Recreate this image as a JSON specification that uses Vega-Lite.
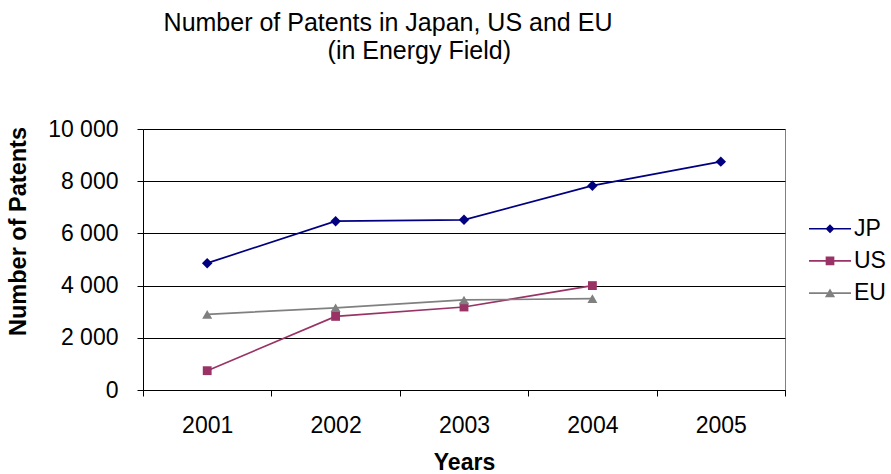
{
  "$schema": "https://vega.github.io/schema/vega-lite/v6.json",
  "width": 642,
  "height": 261,
  "autosize": "none",
  "padding": {"left": 143, "top": 129, "right": 106, "bottom": 84},
  "background": "white",
  "config": {
    "font": "Liberation Sans",
    "view": {"stroke": "#808080", "strokeWidth": 1},
    "axis": {
      "labelColor": "black",
      "labelFont": "Liberation Sans",
      "titleColor": "black",
      "titleFont": "Liberation Sans",
      "domainColor": "black",
      "tickColor": "black"
    }
  },
  "title": {
    "text": ["Number of Patents in Japan, US and EU", "\u200b\u00a0\u00a0\u00a0\u00a0\u00a0\u00a0\u00a0\u00a0\u00a0(in Energy Field)"],
    "font": "Liberation Sans",
    "fontSize": 25,
    "fontWeight": "normal",
    "color": "black",
    "anchor": "middle",
    "frame": "group",
    "dx": -76,
    "lineHeight": 28,
    "baseline": "alphabetic",
    "offset": 34
  },
  "data": {
    "values": [
      {"series": "JP", "year": "2001", "patents": 4860},
      {"series": "JP", "year": "2002", "patents": 6470},
      {"series": "JP", "year": "2003", "patents": 6520},
      {"series": "JP", "year": "2004", "patents": 7830},
      {"series": "JP", "year": "2005", "patents": 8750},
      {"series": "US", "year": "2001", "patents": 740},
      {"series": "US", "year": "2002", "patents": 2820},
      {"series": "US", "year": "2003", "patents": 3180},
      {"series": "US", "year": "2004", "patents": 4000},
      {"series": "EU", "year": "2001", "patents": 2900},
      {"series": "EU", "year": "2002", "patents": 3150},
      {"series": "EU", "year": "2003", "patents": 3450},
      {"series": "EU", "year": "2004", "patents": 3500}
    ]
  },
  "encoding": {
    "x": {
      "field": "year",
      "type": "ordinal",
      "bandPosition": 0.5,
      "scale": {"type": "band", "paddingInner": 0, "paddingOuter": 0},
      "axis": {
        "title": "Years",
        "titleFontSize": 23,
        "titleFontWeight": "bold",
        "titleBaseline": "alphabetic",
        "titleY": 79,
        "labelAngle": 0,
        "labelFontSize": 23,
        "labelPadding": 18,
        "tickSize": 6,
        "tickBand": "extent",
        "grid": false
      }
    },
    "y": {
      "field": "patents",
      "type": "quantitative",
      "scale": {"domain": [0, 10000], "nice": false},
      "axis": {
        "title": "Number of Patents",
        "titleFontSize": 23.5,
        "titleFontWeight": "bold",
        "titleAngle": -90,
        "titleAlign": "center",
        "titleBaseline": "alphabetic",
        "titleX": -118,
        "titleY": 102,
        "values": [0, 2000, 4000, 6000, 8000, 10000],
        "labelExpr": "replace(format(datum.value, ','), ',', ' ')",
        "labelFontSize": 23,
        "labelPadding": 19,
        "tickSize": 6,
        "grid": true,
        "gridColor": "black",
        "gridWidth": 1,
        "gridOpacity": 1
      }
    }
  },
  "layer": [
    {
      "mark": {"type": "line", "strokeWidth": 1.7},
      "encoding": {
        "color": {
          "field": "series",
          "type": "nominal",
          "scale": {"domain": ["EU", "JP", "US"], "range": ["#808080", "#000080", "#993366"]},
          "legend": null
        }
      }
    },
    {
      "transform": [{"filter": "datum.series === 'JP'"}],
      "mark": {"type": "point", "shape": "diamond", "filled": true, "opacity": 1, "strokeWidth": 0, "size": 110},
      "encoding": {
        "color": {"field": "series", "type": "nominal", "legend": null}
      }
    },
    {
      "transform": [{"filter": "datum.series === 'US'"}],
      "mark": {"type": "point", "shape": "square", "filled": true, "opacity": 1, "strokeWidth": 0, "size": 78},
      "encoding": {
        "color": {"field": "series", "type": "nominal", "legend": null}
      }
    },
    {
      "transform": [{"filter": "datum.series === 'EU'"}],
      "mark": {"type": "point", "shape": "triangle-up", "filled": true, "opacity": 1, "strokeWidth": 0, "size": 100},
      "encoding": {
        "color": {"field": "series", "type": "nominal", "legend": null}
      }
    },
    {
      "transform": [{"filter": "false"}],
      "mark": {"type": "point", "filled": true, "opacity": 1, "strokeWidth": 0, "size": 900},
      "encoding": {
        "fill": {
          "field": "series",
          "type": "nominal",
          "scale": {"domain": ["JP", "US", "EU"], "range": ["#000080", "#993366", "#808080"]},
          "legend": {
            "title": null,
            "orient": "none",
            "legendX": 672,
            "legendY": 84.7,
            "padding": 0,
            "labelFontSize": 23,
            "labelColor": "black",
            "labelFont": "Liberation Sans",
            "labelOffset": 9,
            "symbolSize": 900,
            "symbolOpacity": 1,
            "symbolStrokeWidth": 0,
            "rowPadding": 5.2
          }
        },
        "shape": {
          "field": "series",
          "type": "nominal",
          "scale": {
            "domain": ["JP", "US", "EU"],
            "range": [
              "M-1.4,-0.053L1.4,-0.053L1.4,0.053L-1.4,0.053ZM0,-0.3L0.3,0L0,0.3L-0.3,0Z",
              "M-1.4,-0.053L1.4,-0.053L1.4,0.053L-1.4,0.053ZM-0.29,-0.29L0.29,-0.29L0.29,0.29L-0.29,0.29Z",
              "M-1.4,-0.053L1.4,-0.053L1.4,0.053L-1.4,0.053ZM0,-0.31L0.34,0.27L-0.34,0.27Z"
            ]
          },
          "legend": {
            "title": null,
            "orient": "none",
            "legendX": 672,
            "legendY": 84.7,
            "padding": 0,
            "labelFontSize": 23,
            "labelColor": "black",
            "labelFont": "Liberation Sans",
            "labelOffset": 9,
            "symbolSize": 900,
            "symbolOpacity": 1,
            "symbolStrokeWidth": 0,
            "rowPadding": 5.2
          }
        }
      }
    }
  ]
}
